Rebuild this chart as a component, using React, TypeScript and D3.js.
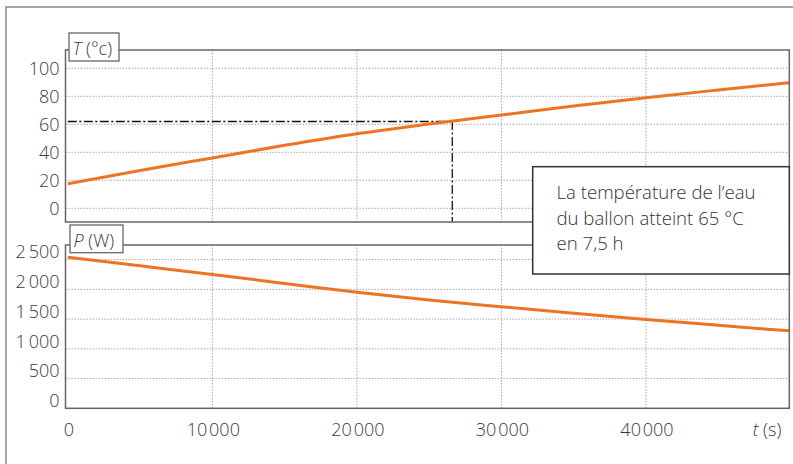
import React from 'react';
import * as d3 from 'd3';

// values
const times = [0, 5000, 10000, 15000, 20000, 25000, 30000, 35000, 40000, 45000, 49900];
const temperature = [17.5, 27, 36, 45, 53.3, 60.2, 66.6, 73, 79, 84.5, 89.7];
const power = [2540, 2395, 2250, 2100, 1950, 1822, 1707, 1597, 1494, 1396, 1302];

const timeTicks = [0, 10000, 20000, 30000, 40000];
const tempTicks = [0, 20, 40, 60, 80, 100];
const powerTicks = [0, 500, 1000, 1500, 2000, 2500];

// reading of the dash-dot guide (reached temperature / time)
const guideTemp = 62;
const guideTime = 26600;

const noteLines = ['La température de l’eau', 'du ballon atteint 65 °C', 'en 7,5 h'];

const ORANGE = '#ec7424';
const FONT = '"Open Sans", "DejaVu Sans", sans-serif';

const fmt = (v: number) => {
  if (v < 1000) return String(v);
  const s = String(v);
  return s.slice(0, s.length - 3) + '\u2009' + s.slice(-3);
};
const fmtX = (v: number) => {
  if (v < 1000) return String(v);
  const s = String(v);
  return s.slice(0, s.length - 3) + '\u200A' + s.slice(-3);
};

export default function App() {
  const left = 65.5;
  const right = 789.3;

  const x = d3.scaleLinear().domain([0, 50000]).range([67.8, 790.5]);

  // top panel (temperature)
  const tTop = 50;
  const tBottom = 222;
  const yT = d3.scaleLinear().domain([0, 100]).range([208.3, 68.3]);

  // bottom panel (power)
  const pTop = 245;
  const pBottom = 408.3;
  const yP = d3.scaleLinear().domain([0, 2500]).range([408.3, 259.6]);

  const tLine = d3.line<number>().x((_, i) => x(times[i])).y((d) => yT(d)).curve(d3.curveMonotoneX);
  const pLine = d3.line<number>().x((_, i) => x(times[i])).y((d) => yP(d)).curve(d3.curveMonotoneX);

  const gridStyle = { stroke: '#a8a8a8', strokeWidth: 1, strokeDasharray: '1.5,1.5' };
  const frame = '#666';
  const textColor = '#3a3a3a';
  const fs = 18;

  return (
    <svg
      width={793}
      height={464}
      style={{ position: 'absolute', left: 0, top: 0, background: 'white' }}
      fontFamily={FONT}
      fontWeight={300}
    >
      {/* outer frame */}
      <path d="M6,464 V7 H793" fill="none" stroke="#8a8a8a" strokeWidth={1.5} />

      {/* ---------- temperature panel ---------- */}
      <rect x={left} y={tTop} width={right - left} height={tBottom - tTop} fill="white" />
      {tempTicks.map((t) => (
        <line key={'tg' + t} x1={left} x2={right} y1={yT(t)} y2={yT(t)} style={gridStyle} />
      ))}
      {timeTicks.slice(1).map((t) => (
        <line key={'tv' + t} x1={x(t)} x2={x(t)} y1={tTop} y2={tBottom} style={gridStyle} />
      ))}
      <path
        d={`M${x(0)},${yT(guideTemp)} H${x(guideTime)} V${tBottom}`}
        fill="none"
        stroke="#111"
        strokeWidth={1.3}
        strokeDasharray="9,2.5,2,2.5"
      />
      <path d={tLine(temperature) || ''} fill="none" stroke={ORANGE} strokeWidth={3} />
      <rect x={left} y={tTop} width={right - left} height={tBottom - tTop} fill="none" stroke={frame} strokeWidth={1.5} />
      {tempTicks.map((t) => (
        <text key={'tl' + t} x={59.5} y={yT(t)} dy="0.35em" textAnchor="end" fontSize={fs} fill={textColor}>
          {t}
        </text>
      ))}
      <rect x={69} y={33} width={50} height={28} fill="white" stroke={frame} strokeWidth={1.3} />
      <text x={72.5} y={55} fontSize={fs} fill={textColor}>
        <tspan fontStyle="italic">T</tspan> (°c)
      </text>

      {/* ---------- power panel ---------- */}
      <rect x={left} y={pTop} width={right - left} height={pBottom - pTop} fill="white" />
      {powerTicks.slice(1).map((p) => (
        <line key={'pg' + p} x1={left} x2={right} y1={yP(p)} y2={yP(p)} style={gridStyle} />
      ))}
      {timeTicks.slice(1).map((t) => (
        <line key={'pv' + t} x1={x(t)} x2={x(t)} y1={pTop} y2={pBottom} style={gridStyle} />
      ))}
      <path d={pLine(power) || ''} fill="none" stroke={ORANGE} strokeWidth={3} />
      <rect x={left} y={pTop} width={right - left} height={pBottom - pTop} fill="none" stroke={frame} strokeWidth={1.5} />
      {powerTicks.map((p) => (
        <text key={'pl' + p} x={59.5} y={yP(p) - 7.5} dy="0.35em" textAnchor="end" fontSize={fs} fill={textColor}>
          {fmt(p)}
        </text>
      ))}
      <rect x={70} y={225} width={53} height={27.7} fill="white" stroke={frame} strokeWidth={1.3} />
      <text x={73.5} y={246.5} fontSize={fs} fill={textColor}>
        <tspan fontStyle="italic">P</tspan> (W)
      </text>

      {/* time axis labels */}
      {timeTicks.map((t) => (
        <text key={'xl' + t} x={x(t) + 1} y={436} textAnchor="middle" fontSize={fs} fill={textColor}>
          {fmtX(t)}
        </text>
      ))}
      <text x={767} y={436} textAnchor="middle" fontSize={fs} fill={textColor}>
        <tspan fontStyle="italic">t</tspan> (s)
      </text>

      {/* annotation */}
      <rect x={532.7} y={166.7} width={256.6} height={107.3} fill="white" stroke="#333" strokeWidth={1.5} />
      {noteLines.map((s, i) => (
        <text key={'n' + i} x={556.5} y={199.3 + i * 25.5} fontSize={18.6} fill="#333">
          {s}
        </text>
      ))}
    </svg>
  );
}
